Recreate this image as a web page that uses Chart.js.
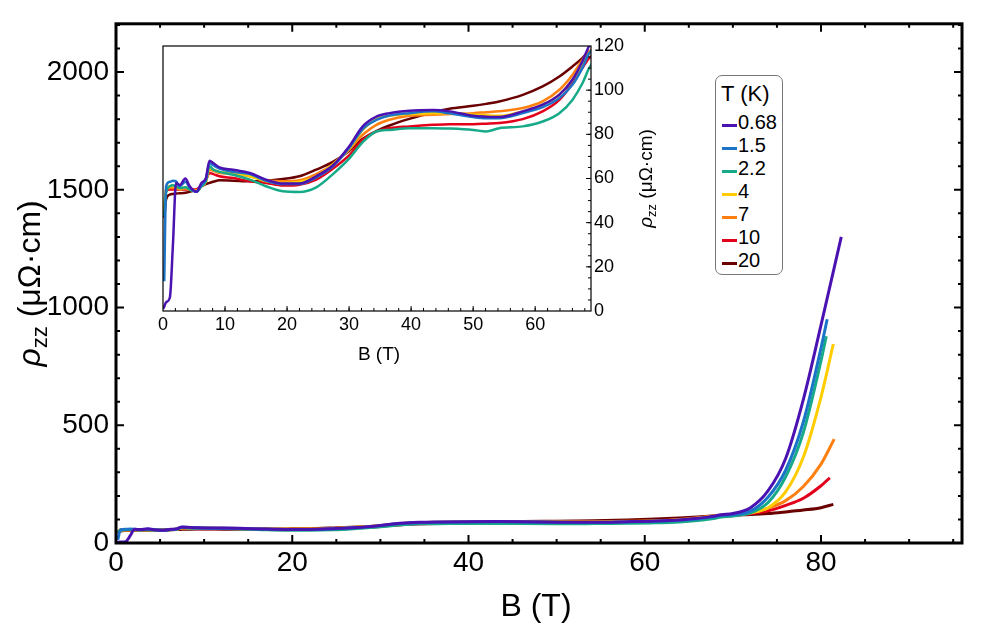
<!DOCTYPE html>
<html>
<head>
<meta charset="utf-8">
<script src="https://cdn.jsdelivr.net/npm/chart.js@4.4.1/dist/chart.umd.min.js"></script>
<style>
  body { margin: 0; background: #fff; }
  #wrap { position: relative; width: 1000px; height: 638px; font-family: "Liberation Sans", Arial, sans-serif; }
  #main { position: absolute; left: 0; top: 0; }
  #inset { position: absolute; left: 140px; top: 30px; }
  #legend {
    position: absolute; left: 715px; top: 75px; width: 66px; height: 198px;
    border: 1px solid #777; border-radius: 7px; background: #fff; box-sizing: content-box;
  }
  #legend .ttl { position: absolute; left: 5px; top: 6px; font-size: 22px; line-height: 24px; }
  #legend .row { position: absolute; left: 6px; font-size: 20px; line-height: 22px; white-space: nowrap; }
  #legend .sw { display: inline-block; width: 15px; height: 3px; margin-right: 1px; vertical-align: 2px; }
</style>
</head>
<body>
<div id="wrap">
  <canvas id="main" width="1000" height="638"></canvas>
  <canvas id="inset" width="540" height="345"></canvas>
  <div id="legend"></div>
</div>
<script>
// magnetic field grid (T), shared by every curve
const fieldT = [0, 0.2, 0.5, 1.1, 1.6, 2.1, 2.7, 3.6, 4.3, 5.4, 6.2, 6.9, 7.5, 8.1, 9.1, 11.3, 14, 16.6, 19.3, 22,
  24.7, 27.4, 30, 32.2, 34.4, 36.5, 39.7, 43.5, 46.2, 50, 52.1, 54.2, 58, 61.2, 63.9, 66, 67.6, 68.7, 70, 72,
  74, 76, 78, 80];

// rho_zz (uOhm cm) for each temperature
const rho068 = [1, 2, 4, 6, 30, 58, 57, 60, 56.5, 54, 58, 60, 68, 67, 65, 64, 62.5, 59.5, 57.7, 57.7,
  61, 66, 74.5, 83.6, 88, 89.6, 90.7, 91, 90.4, 88.4, 88, 87.8, 90.4, 93.4, 98, 104.7, 113, 120, 125, 150,
  222, 360, 610, 925];
const rho15 = [null, 13.5, 56.5, 58.5, 59, 58.7, 56.5, 58.5, 56, 54, 57, 59.5, 67, 66, 64.5, 63, 62, 59, 57.5, 57.5,
  60.5, 65.5, 73.8, 82.4, 86.5, 88.5, 89.6, 90.4, 89.5, 87.8, 87.3, 87.3, 89.6, 92.3, 96.4, 102.4, 110, 116.7, 120, 135,
  195, 310, 515, 828];
const rho22 = [null, 43, 53.5, 56.5, 57, 56.5, 55.7, 56, 55, 54, 56.5, 58.7, 65.5, 64, 63, 61.7, 59.5, 56.5, 54.2, 53.9,
  56, 62, 69, 76.5, 81.3, 82, 82.8, 82.8, 82.6, 82, 81.3, 82.8, 83.6, 85.8, 89.6, 95.6, 103, 110, 115, 128,
  172, 282, 470, 774];
const rho4 = [null, 46, 55, 56.5, 56.5, 56.5, 55.5, 56, 55, 54.5, 56.5, 58.5, 64.8, 64, 63, 62.5, 61, 58.7, 58, 58.5,
  61, 66.5, 73.5, 82, 86.9, 88.4, 89.2, 89.6, 89.6, 88.9, 88.6, 88.4, 90.4, 93.4, 98, 104.7, 112, 116.7, 118, 128,
  150, 218, 365, 620];
const rho7 = [null, 44.4, 55, 55.7, 55.7, 55.5, 55, 55.5, 55, 54.5, 56.5, 58.5, 64, 63.5, 62.5, 62.2, 61, 59.2, 58.7, 59.2,
  62, 66.5, 73, 79.8, 84.3, 86.6, 88.4, 88.9, 89.2, 89.6, 90, 90.4, 91.9, 94.9, 100.2, 106.9, 113.7, 117.5, 120, 128,
  148, 180, 240, 335];
const rho10 = [null, 43.7, 54.2, 55, 55, 55, 55, 55, 55, 55, 57, 59, 62.5, 62, 61, 60.2, 58.7, 58, 56.8, 57.2,
  59.5, 64.5, 70.5, 77.6, 81.3, 82.8, 83.6, 84.3, 84.6, 84.6, 84.8, 85.1, 86.9, 90.4, 95.6, 103, 110, 114.5, 117, 124,
  137, 160, 190, 243];
const rho20 = [null, 42.2, 50.5, 52.7, 53, 53.2, 53.3, 53.5, 54, 55, 56.5, 57.5, 58, 58.5, 59.2, 59, 58.7, 59, 59.8, 61,
  64, 67.5, 72.5, 78, 81.5, 84, 87, 90, 91.6, 92.9, 93.8, 94.9, 97.9, 101.7, 106.2, 110.7, 114.5, 117.5, 119, 121,
  125, 132, 140, 150];

// last measured point of each sweep
const endField = [82.3, 80.7, 80.6, 81.4, 81.5, 81.0, 81.4];
const endRho = [1300, 950, 878, 845, 441, 277, 164];

const temps = ['0.68', '1.5', '2.2', '4', '7', '10', '20'];
const series = [rho068, rho15, rho22, rho4, rho7, rho10, rho20];
const colors = ['#4b12b2', '#1b74c8', '#16aa88', '#ffcc00', '#ff8010', '#e3001a', '#6a0000'];

// tick values
const mainXTicks = [0, 20, 40, 60, 80];
const mainYTicks = [0, 500, 1000, 1500, 2000];
const insetXTicks = [0, 10, 20, 30, 40, 50, 60];
const insetYTicks = [0, 20, 40, 60, 80, 100, 120];

const FONT = '"Liberation Sans", Arial, sans-serif';

function range(step, max) {
  const out = [];
  for (let v = 0; v <= max + 1e-9; v += step) out.push(+v.toFixed(6));
  return out;
}

function makeDatasets(width) {
  return series.map((vals, k) => {
    const pts = [];
    fieldT.forEach((b, i) => { if (vals[i] !== null) pts.push({ x: b, y: vals[i] }); });
    pts.push({ x: endField[k], y: endRho[k] });
    return {
      label: temps[k],
      data: pts,
      borderColor: colors[k],
      borderWidth: width,
      pointRadius: 0,
      fill: false,
      cubicInterpolationMode: 'monotone'
    };
  });
}

// rho_zz (uOhm.cm) written with italic rho and subscript zz, centred on (0,0) after rotation
function drawRhoTitle(ctx, size) {
  const parts = [
    { t: 'ρ', f: 'italic ' + size + 'px ' + FONT, dy: 0 },
    { t: 'zz', f: Math.round(size * 0.68) + 'px ' + FONT, dy: size * 0.22 },
    { t: ' (μΩ·cm)', f: size + 'px ' + FONT, dy: 0 }
  ];
  let total = 0;
  parts.forEach(p => { ctx.font = p.f; p.w = ctx.measureText(p.t).width; total += p.w; });
  let x = -total / 2;
  ctx.textAlign = 'left';
  ctx.textBaseline = 'alphabetic';
  parts.forEach(p => { ctx.font = p.f; ctx.fillText(p.t, x, p.dy); x += p.w; });
}

const mathFrame = {
  id: 'mathFrame',
  beforeDatasetsDraw(chart) {
    const { ctx, chartArea: a } = chart;
    ctx.save();
    ctx.fillStyle = '#fff';
    ctx.fillRect(a.left, a.top, a.right - a.left, a.bottom - a.top);
    ctx.restore();
  },
  afterDatasetsDraw(chart, args, o) {
    const { ctx, chartArea: a } = chart;
    const xs = chart.scales.x, ys = chart.scales.y;
    ctx.save();
    ctx.strokeStyle = '#000';
    ctx.lineWidth = o.tickWidth;
    ctx.beginPath();
    const xMarks = (vals, len) => vals.forEach(v => {
      const p = xs.getPixelForValue(v);
      if (p <= a.left + 1 || p >= a.right - 1) return;
      if (o.sides.includes('b')) { ctx.moveTo(p, a.bottom); ctx.lineTo(p, a.bottom - len); }
      if (o.sides.includes('t')) { ctx.moveTo(p, a.top); ctx.lineTo(p, a.top + len); }
    });
    const yMarks = (vals, len) => vals.forEach(v => {
      const p = ys.getPixelForValue(v);
      if (p <= a.top + 1 || p >= a.bottom - 1) return;
      if (o.sides.includes('l')) { ctx.moveTo(a.left, p); ctx.lineTo(a.left + len, p); }
      if (o.sides.includes('r')) { ctx.moveTo(a.right, p); ctx.lineTo(a.right - len, p); }
    });
    xMarks(range(o.xMinor, xs.max), o.minorLen);
    xMarks(o.xMajor, o.majorLen);
    yMarks(range(o.yMinor, ys.max), o.minorLen);
    yMarks(o.yMajor, o.majorLen);
    ctx.stroke();
    ctx.lineWidth = o.frameWidth;
    ctx.strokeRect(a.left, a.top, a.right - a.left, a.bottom - a.top);

    ctx.fillStyle = '#000';
    ctx.font = o.titleSize + 'px ' + FONT;
    ctx.textAlign = 'center';
    ctx.textBaseline = 'middle';
    ctx.fillText('B (T)', (a.left + a.right) / 2 + o.xTitleShift, a.bottom + o.xTitleOffset);

    ctx.translate(o.yTitleX, (a.top + a.bottom) / 2);
    ctx.rotate(-Math.PI / 2);
    drawRhoTitle(ctx, o.yTitleSize);
    ctx.restore();
  }
};

function fixTicks(values) {
  return scale => { scale.ticks = values.map(v => ({ value: v })); };
}
const plainLabel = v => String(v);

// ---------------- main chart ----------------
new Chart(document.getElementById('main').getContext('2d'), {
  type: 'line',
  data: { datasets: makeDatasets(3) },
  options: {
    responsive: false,
    animation: false,
    parsing: false,
    layout: { padding: { left: 0, top: 18, right: 38, bottom: 0 } },
    plugins: {
      legend: { display: false },
      tooltip: { enabled: false },
      mathFrame: {
        sides: 'lrtb', tickWidth: 2, frameWidth: 3, majorLen: 8, minorLen: 4,
        xMajor: mainXTicks, xMinor: 5, yMajor: mainYTicks, yMinor: 100,
        titleSize: 32, xTitleShift: -3, xTitleOffset: 64, yTitleX: 40, yTitleSize: 32
      }
    },
    scales: {
      x: {
        type: 'linear', min: 0, max: 96,
        afterBuildTicks: fixTicks(mainXTicks),
        afterFit: s => { s.height = 95; },
        grid: { display: false, drawTicks: false },
        border: { display: false },
        ticks: { color: '#000', font: { size: 28, family: FONT }, padding: 3, maxRotation: 0, callback: plainLabel }
      },
      y: {
        type: 'linear', min: 0, max: 2205,
        afterBuildTicks: fixTicks(mainYTicks),
        afterFit: s => { s.width = 116; },
        grid: { display: false, drawTicks: false },
        border: { display: false },
        ticks: { color: '#000', font: { size: 28, family: FONT }, padding: 7, callback: plainLabel }
      }
    }
  },
  plugins: [mathFrame]
});

// ---------------- inset ----------------
new Chart(document.getElementById('inset').getContext('2d'), {
  type: 'line',
  data: { datasets: makeDatasets(2.5) },
  options: {
    responsive: false,
    animation: false,
    parsing: false,
    layout: { padding: { left: 23, top: 16, right: 0, bottom: 0 } },
    plugins: {
      legend: { display: false },
      tooltip: { enabled: false },
      mathFrame: {
        sides: 'br', tickWidth: 1, frameWidth: 1.2, majorLen: 5, minorLen: 3,
        xMajor: insetXTicks, xMinor: 2, yMajor: insetYTicks, yMinor: 5,
        titleSize: 19, xTitleShift: 2, xTitleOffset: 44, yTitleX: 512, yTitleSize: 19
      }
    },
    scales: {
      x: {
        type: 'linear', min: 0, max: 69,
        afterBuildTicks: fixTicks(insetXTicks),
        afterFit: s => { s.height = 64; },
        grid: { display: false, drawTicks: false },
        border: { display: false },
        ticks: { color: '#000', font: { size: 18, family: FONT }, padding: 3, maxRotation: 0, callback: plainLabel }
      },
      y: {
        type: 'linear', position: 'right', min: 0, max: 120,
        afterBuildTicks: fixTicks(insetYTicks),
        afterFit: s => { s.width = 89; },
        grid: { display: false, drawTicks: false },
        border: { display: false },
        ticks: { color: '#000', font: { size: 18, family: FONT }, padding: 3, callback: plainLabel }
      }
    }
  },
  plugins: [mathFrame]
});

// ---------------- legend ----------------
const legend = document.getElementById('legend');
legend.innerHTML = '<div class="ttl">T (K)</div>' + temps.map((t, k) =>
  '<div class="row" style="top:' + (35 + k * 23) + 'px"><span class="sw" style="background:' + colors[k] + '"></span>' + t + '</div>'
).join('');
</script>
</body>
</html>
